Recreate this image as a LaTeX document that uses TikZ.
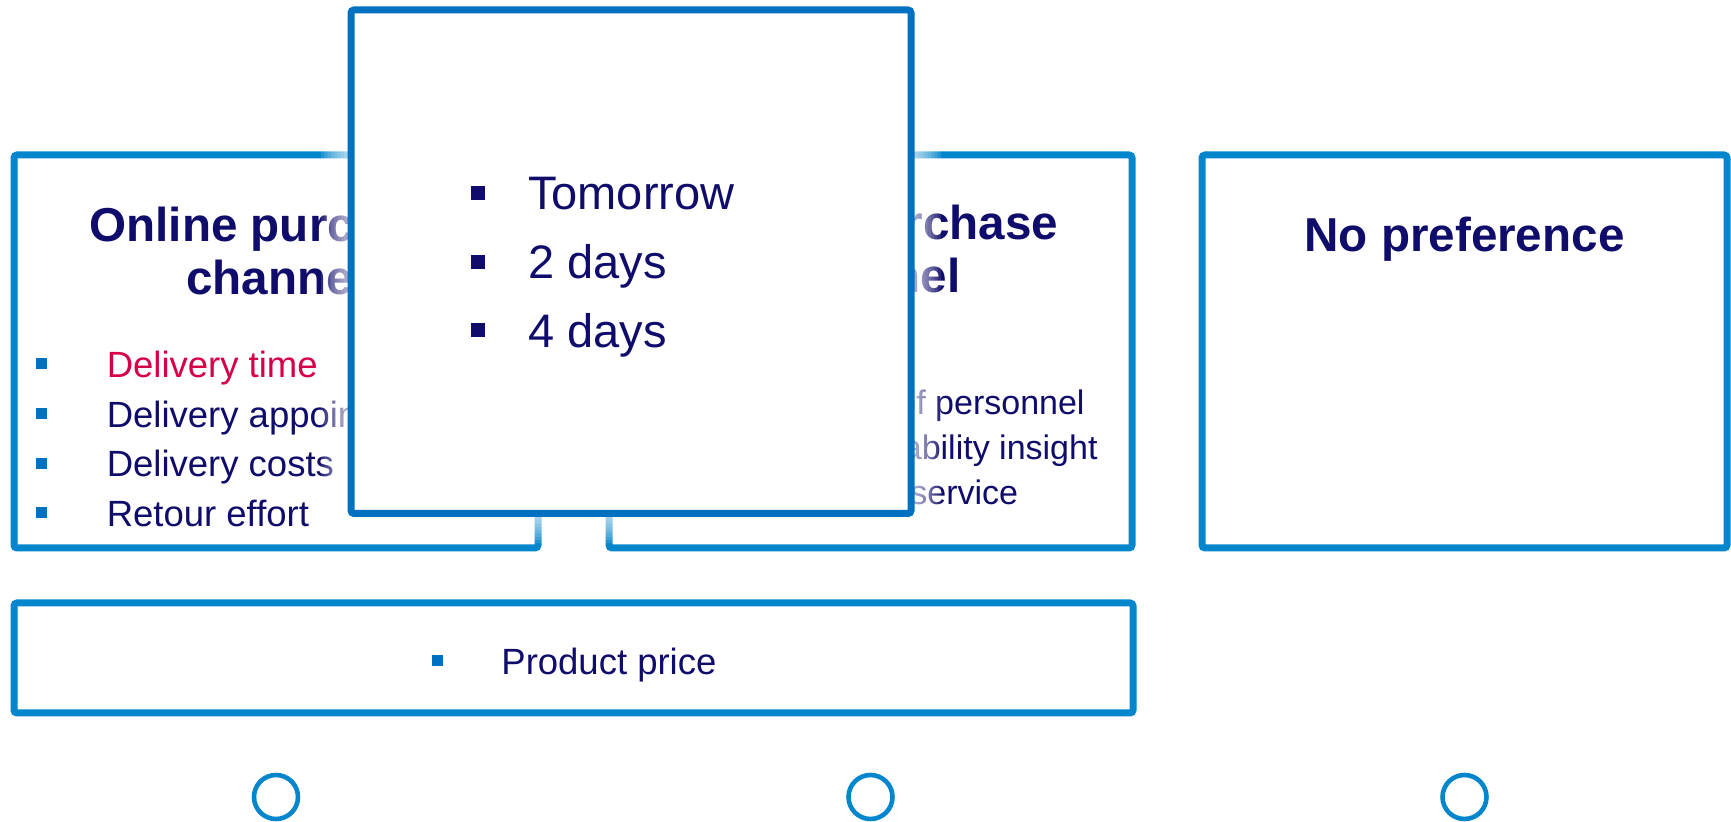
\documentclass[tikz,border=0pt]{standalone}
\usepackage{fontspec}
\setmainfont{Liberation Sans}
\usetikzlibrary{calc}
\definecolor{boxblue}{RGB}{3,134,204}
\definecolor{popblue}{RGB}{0,112,192}
\definecolor{navy}{RGB}{16,12,108}
\definecolor{crimson}{RGB}{214,0,74}
\begin{document}
\begin{tikzpicture}[x=0.5pt,y=-0.5pt,
  panel/.style={draw=boxblue, line width=3.5pt, rounded corners=1.5pt, fill=white, inner sep=0pt},
  popup/.style={draw=popblue, line width=3.5pt, rounded corners=1.5pt, fill=white, inner sep=0pt},
  title/.style={text=navy, font=\fontsize{23.8pt}{26.5pt}\selectfont\bfseries, align=center, anchor=base, inner sep=0pt},
  item/.style={text=navy, font=\fontsize{18.25pt}{20pt}\selectfont, anchor=base west, inner sep=0pt},
  itemr/.style={text=navy, font=\fontsize{17pt}{19pt}\selectfont, anchor=base east, inner sep=0pt},
  bigitem/.style={text=navy, font=\fontsize{23.5pt}{26pt}\selectfont, anchor=base west, inner sep=0pt},
  sq/.style={fill=popblue, minimum size=5.5pt, inner sep=0pt, outer sep=0pt},
  bigsq/.style={fill=navy, minimum size=7pt, inner sep=0pt, outer sep=0pt},
  ring/.style={draw=boxblue, line width=2.3pt, circle, minimum size=22pt, inner sep=0pt}
]
\useasboundingbox (0,0) rectangle (1731,822);

% three channel panels and the shared panel below
\node[panel, minimum width=262pt, minimum height=196.5pt] (online) at (276,351.5) {};
\node[panel, minimum width=261.5pt, minimum height=196.5pt] (offline) at (870.5,351.5) {};
\node[panel, minimum width=262.5pt, minimum height=196.5pt] (nopref) at (1464.5,351.5) {};
\node[panel, minimum width=559.5pt, minimum height=55pt] (shared) at (573.5,658) {};

% panel titles (a two-line node sits on the baseline of its last line)
\node[title] (ttl1) at (276,295) {Online purchase\\channel};
\node[title] (ttl2) at (870.5,293) {Offline purchase\\channel};
\node[title] (ttl3) at (1464.5,251.5) {No preference};

% online criteria
\foreach \i in {0,...,3}{
  \node[sq] (ob\i) at (41,364+49.6*\i) {};
}
\node[item, text=crimson] (o0) at (106.4,377.7) {Delivery time};
\node[item] (o1) at (106.4,427.3) {Delivery appointment};
\node[item] (o2) at (106.4,476.9) {Delivery costs};
\node[item] (o3) at (106.4,526.5) {Retour effort};

% offline criteria
\node[itemr] (f0) at (1085,415) {Advice of personnel};
\node[itemr] (f1) at (1098,460) {Product availability insight};
\node[itemr] (f2) at (1018.6,505) {Personal service};

% shared criterion
\node[sq] (sb) at (437,661) {};
\node[item] (s0) at (501,675) {Product price};

% soft white glow around the delivery-time panel
\coordinate (gsw) at (347.5,517);
\coordinate (gne) at (914.5,6.5);
\foreach \k in {1,...,8}{
  \fill[white, opacity=0.12, rounded corners=2pt]
    ($(gsw)+(-3.3*\k,3.3*\k)$) rectangle ($(gne)+(3.3*\k,-3.3*\k)$);
}

% delivery-time panel on top
\node[popup, minimum width=280pt, minimum height=251.75pt] (pop) at (631,261.75) {};
\node[bigsq] (pb0) at (477.7,192.6) {};
\node[bigsq] (pb1) at (477.7,261.9) {};
\node[bigsq] (pb2) at (477.7,330.2) {};
\node[bigitem] (p0) at (527.7,209.6) {Tomorrow};
\node[bigitem] (p1) at (527.7,278.9) {2 days};
\node[bigitem] (p2) at (527.7,347.2) {4 days};

% selection rings
\node[ring] (r1) at (276,797) {};
\node[ring] (r2) at (870.5,797) {};
\node[ring] (r3) at (1464.5,797) {};
\end{tikzpicture}
\end{document}
